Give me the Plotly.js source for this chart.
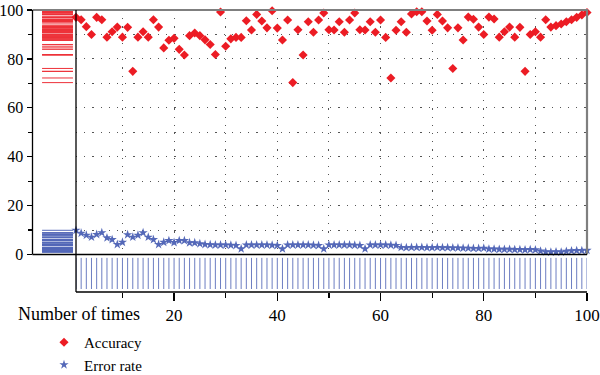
<!DOCTYPE html>
<html>
<head>
<meta charset="utf-8">
<script src="https://cdn.plot.ly/plotly-3.0.1.min.js"></script>
<style>html,body{margin:0;padding:0;background:#fff;}#chart{width:600px;height:375px;}</style>
</head>
<body>
<div id="chart"></div>
<script>
// ---- data ----
const trials = Array.from({length: 100}, (_, k) => k + 1);
const accuracy = [
  97.0, 96.0, 93.2, 90.0, 97.0, 96.0, 88.9, 91.1, 93.0, 88.9,
  92.9, 74.9, 88.9, 91.1, 88.9, 96.0, 93.0, 84.5, 87.6, 88.4,
  83.9, 81.6, 89.5, 90.6, 89.5, 87.8, 85.9, 81.8, 99.2, 85.2,
  88.2, 88.8, 88.8, 95.6, 91.8, 98.2, 95.5, 92.7, 99.7, 92.6,
  87.7, 95.9, 70.3, 91.9, 81.6, 95.2, 90.9, 95.9, 98.8, 91.9,
  91.8, 95.2, 90.9, 95.9, 98.8, 91.9, 91.8, 95.2, 90.9, 95.9,
  88.8, 72.2, 91.7, 95.2, 90.9, 98.4, 99.3, 99.3, 95.5, 91.7,
  98.2, 95.5, 92.7, 76.1, 92.7, 87.7, 97.1, 96.2, 93.0, 90.0,
  97.1, 96.3, 88.9, 91.1, 93.0, 88.9, 92.9, 74.9, 90.0, 91.1,
  88.9, 96.0, 93.0, 93.6, 94.3, 95.2, 96.0, 97.0, 98.0, 99.0
];
const errorRate = [
  9.9, 8.7, 7.9, 7.1, 8.2, 8.9, 6.8, 6.1, 4.1, 5.0,
  8.1, 7.1, 7.9, 8.9, 7.1, 6.1, 4.1, 5.0, 5.7, 4.9,
  5.7, 5.7, 4.8, 4.8, 4.4, 4.1, 4.0, 3.9, 3.9, 3.9,
  3.8, 3.7, 2.3, 3.9, 3.9, 3.9, 3.9, 3.9, 3.8, 3.7,
  2.3, 3.9, 3.9, 3.9, 3.9, 3.9, 3.8, 3.7, 2.3, 3.9,
  3.9, 3.9, 3.9, 3.9, 3.8, 3.7, 2.3, 3.9, 3.9, 3.9,
  3.9, 3.8, 3.7, 2.9, 2.8, 2.9, 2.9, 2.9, 2.8, 2.8,
  2.9, 2.8, 2.8, 2.7, 2.7, 2.6, 2.6, 2.5, 2.5, 2.6,
  2.2, 2.2, 2.1, 2.1, 2.1, 2.0, 2.0, 1.9, 2.0, 1.9,
  1.4, 1.1, 1.0, 1.1, 1.0, 1.3, 1.5, 1.6, 1.6, 1.7
];
const seriesNames = ["Accuracy", "Error rate"];
const yTickVals = [0, 20, 40, 60, 80, 100];
const xTickVals = [20, 40, 60, 80, 100];
const xTitle = "Number of times";

// ---- styling ----
const RED = "#ec1c24";
const BLUE = "#5468b8";
const FONT = "'Liberation Serif', 'DejaVu Serif', serif";
const W = 600, H = 375;
const px = v => v / W;
const py = v => 1 - v / H;

// geometry (pixels)
const mainL = 76, mainR = 587, mainT = 10, mainB = 254.5;
const rugL = 32.5, rugB = 292;

// rug helpers built from the data arrays
function hRug(vals, x0, x1) {
  const xs = [], ys = [];
  vals.forEach(v => { xs.push(x0, x1, null); ys.push(v, v, null); });
  return {x: xs, y: ys};
}
function vRug(vals, y0, y1) {
  const xs = [], ys = [];
  vals.forEach(v => { xs.push(v, v, null); ys.push(y0, y1, null); });
  return {x: xs, y: ys};
}
const accRug = hRug(accuracy, 0.22, 0.93);
const errRug = hRug(errorRate, 0.22, 0.93);
const xRug = vRug(trials, 0.08, 0.91);

const traces = [
  {x: accRug.x, y: accRug.y, xaxis: "x2", yaxis: "y2", mode: "lines",
   line: {color: RED, width: 1}, opacity: 0.9, showlegend: false, hoverinfo: "skip"},
  {x: errRug.x, y: errRug.y, xaxis: "x2", yaxis: "y2", mode: "lines",
   line: {color: BLUE, width: 1}, showlegend: false, hoverinfo: "skip"},
  {x: xRug.x, y: xRug.y, xaxis: "x3", yaxis: "y3", mode: "lines",
   line: {color: BLUE, width: 1}, opacity: 0.85, showlegend: false, hoverinfo: "skip"},
  {x: trials, y: accuracy, xaxis: "x", yaxis: "y", mode: "markers", name: seriesNames[0],
   marker: {symbol: "diamond", size: 7, color: RED}, cliponaxis: false},
  {x: trials, y: errorRate, xaxis: "x", yaxis: "y", mode: "markers", name: seriesNames[1],
   marker: {symbol: "star", size: 7, color: BLUE}, cliponaxis: false}
];

const gridStyle = {showgrid: true, gridcolor: "#555", gridwidth: 1, griddash: "1.2px,7px"};

const layout = {
  width: W, height: H,
  margin: {l: 0, r: 0, t: 0, b: 0, autoexpand: false},
  paper_bgcolor: "#fff", plot_bgcolor: "rgba(0,0,0,0)",
  font: {family: FONT, size: 16, color: "#000"},
  xaxis: Object.assign({domain: [px(mainL), px(mainR)], range: [1, 100], anchor: "y",
    tickmode: "linear", tick0: 0, dtick: 10, showticklabels: false, ticks: "",
    zeroline: false, showline: false}, gridStyle),
  yaxis: Object.assign({domain: [py(mainB), py(mainT)], range: [0, 100], anchor: "x",
    tickmode: "linear", tick0: 0, dtick: 10, showticklabels: false, ticks: "",
    zeroline: false, showline: false}, gridStyle),
  xaxis2: {domain: [px(rugL), px(mainL)], range: [0, 1], anchor: "y2",
    visible: false, fixedrange: true},
  yaxis2: {domain: [py(mainB), py(mainT)], range: [0, 100], anchor: "x2", side: "left",
    tickmode: "array", tickvals: yTickVals, ticks: "outside", ticklen: 5, tickwidth: 1.2,
    tickcolor: "#000", showgrid: false, zeroline: false, showline: false,
    tickfont: {family: FONT, size: 16, color: "#000"},
    minor: {tickmode: "linear", tick0: 0, dtick: 10, ticks: "outside", ticklen: 4, tickcolor: "#000", showgrid: false}},
  xaxis3: {domain: [px(mainL), px(mainR)], range: [1, 100], anchor: "y3", side: "bottom",
    tickmode: "array", tickvals: xTickVals, ticks: "outside", ticklen: 8, tickwidth: 1.2,
    tickcolor: "#000", showgrid: false, zeroline: false, showline: false,
    tickfont: {family: FONT, size: 17, color: "#000"},
    minor: {tickmode: "linear", tick0: 0, dtick: 10, ticks: "outside", ticklen: 5, tickcolor: "#000", showgrid: false}},
  yaxis3: {domain: [py(rugB), py(mainB)], range: [0, 1], anchor: "x3", visible: false, fixedrange: true},
  showlegend: true,
  legend: {x: px(44), y: py(326), xanchor: "left", yanchor: "top", bgcolor: "rgba(0,0,0,0)",
    font: {family: FONT, size: 15, color: "#000"}, tracegroupgap: 0, itemwidth: 30},
  annotations: [
    {text: xTitle, xref: "paper", yref: "paper", x: px(16), y: py(314), xanchor: "left", yanchor: "middle",
     showarrow: false, font: {family: FONT, size: 18, color: "#000"}}
  ],
  shapes: [
    {type: "line", xref: "paper", yref: "paper", x0: px(rugL), x1: px(mainR + 1), y0: py(mainT), y1: py(mainT), line: {color: "#7f7f7f", width: 2.2}},
    {type: "line", xref: "paper", yref: "paper", x0: px(mainR), x1: px(mainR), y0: py(mainT), y1: py(mainB), line: {color: "#7f7f7f", width: 2.2}},
    {type: "line", xref: "paper", yref: "paper", x0: px(rugL), x1: px(rugL), y0: py(mainT), y1: py(mainB), line: {color: "#000", width: 1.3}},
    {type: "line", xref: "paper", yref: "paper", x0: px(mainL), x1: px(mainL), y0: py(mainT), y1: py(rugB), line: {color: "#000", width: 1.3}},
    {type: "line", xref: "paper", yref: "paper", x0: px(rugL), x1: px(mainR), y0: py(mainB), y1: py(mainB), line: {color: "#000", width: 1.3}},
    {type: "line", xref: "paper", yref: "paper", x0: px(mainL), x1: px(mainR), y0: py(rugB), y1: py(rugB), line: {color: "#000", width: 1.3}}
  ]
};

Plotly.newPlot("chart", traces, layout, {displayModeBar: false, staticPlot: true});
</script>
</body>
</html>
